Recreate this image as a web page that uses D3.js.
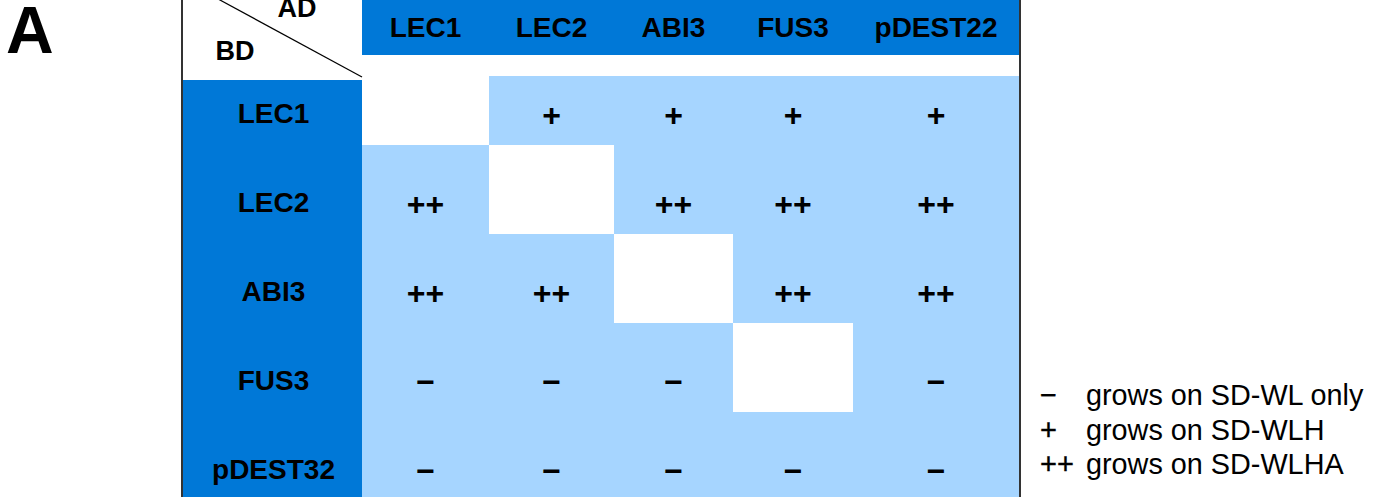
<!DOCTYPE html>
<html>
<head>
<meta charset="utf-8">
<script src="https://cdn.jsdelivr.net/npm/d3@7/dist/d3.min.js"></script>
<style>
  html, body { margin: 0; padding: 0; background: #fff; }
  svg { display: block; }
  text { font-family: "Liberation Sans", Arial, sans-serif; }
</style>
</head>
<body>
<svg id="chart" width="1386" height="497"></svg>
<script>
// ---- data ----
const adColumns = ["LEC1", "LEC2", "ABI3", "FUS3", "pDEST22"];
const bdRows = ["LEC1", "LEC2", "ABI3", "FUS3", "pDEST32"];
const growthLEC1 = [null, "+", "+", "+", "+"];
const growthLEC2 = ["++", null, "++", "++", "++"];
const growthABI3 = ["++", "++", null, "++", "++"];
const growthFUS3 = ["\u2212", "\u2212", "\u2212", null, "\u2212"];
const growthPDEST32 = ["\u2212", "\u2212", "\u2212", "\u2212", "\u2212"];
const legendSymbols = ["\u2212", "+", "++"];
const legendLabels = ["grows on SD-WL only", "grows on SD-WLH", "grows on SD-WLHA"];
const panelLabel = "A";
const adLabel = "AD";
const bdLabel = "BD";

// ---- layout ----
const W = 1386, H = 497;
const colEdges = [362, 489, 614, 733, 853, 1019];
const leftX0 = 183;
const darkBlue = "#0078D7";
const lightBlue = "#A6D5FF";

const svg = d3.select("#chart");

const growth = [growthLEC1, growthLEC2, growthABI3, growthFUS3, growthPDEST32];
const cells = [];
bdRows.forEach((r, i) => adColumns.forEach((c, j) => {
  cells.push({ row: r, col: j, value: growth[i][j] });
}));

const x = d3.scaleLinear().domain(d3.range(colEdges.length)).range(colEdges);
const y = d3.scaleBand().domain(bdRows).range([56, 501]);

// cells
svg.append("g").selectAll("rect")
  .data(cells).join("rect")
  .attr("x", d => x(d.col))
  .attr("y", d => y(d.row))
  .attr("width", d => x(d.col + 1) - x(d.col))
  .attr("height", y.bandwidth())
  .attr("fill", d => d.value === null ? "#fff" : lightBlue);

// white gap under header
svg.append("rect").attr("x", x(0)).attr("y", 55).attr("width", x(5) - x(0)).attr("height", 21).attr("fill", "#fff");
// header band
svg.append("rect").attr("x", x(0)).attr("y", 0).attr("width", x(5) - x(0)).attr("height", 55).attr("fill", darkBlue);
// left column
svg.append("rect").attr("x", leftX0).attr("y", 80).attr("width", x(0) - leftX0).attr("height", H - 80).attr("fill", darkBlue);

// header labels
svg.append("g").selectAll("text")
  .data(adColumns).join("text")
  .attr("x", (d, j) => (x(j) + x(j + 1)) / 2)
  .attr("y", 37)
  .attr("text-anchor", "middle")
  .attr("font-size", 28).attr("font-weight", "bold").attr("fill", "#000")
  .text(d => d);

// row labels
svg.append("g").selectAll("text")
  .data(bdRows).join("text")
  .attr("x", (leftX0 + x(0)) / 2 + 1)
  .attr("y", d => y(d) + y.bandwidth() / 2 + 22)
  .attr("text-anchor", "middle")
  .attr("font-size", 28).attr("font-weight", "bold").attr("fill", "#000")
  .text(d => d);

// cell symbols
svg.append("g").selectAll("text")
  .data(cells.filter(d => d.value !== null)).join("text")
  .attr("x", d => (x(d.col) + x(d.col + 1)) / 2)
  .attr("y", d => y(d.row) + y.bandwidth() / 2 + 25.5)
  .attr("text-anchor", "middle")
  .attr("font-size", 32).attr("font-weight", "bold").attr("fill", "#000")
  .text(d => d.value);

// corner: diagonal + AD / BD
svg.append("line").attr("x1", 210).attr("y1", -5.4).attr("x2", x(0)).attr("y2", 77)
  .attr("stroke", "#000").attr("stroke-width", 1.2);
svg.append("text").attr("x", 297).attr("y", 17).attr("text-anchor", "middle")
  .attr("font-size", 27).attr("font-weight", "bold").text(adLabel);
svg.append("text").attr("x", 235).attr("y", 60).attr("text-anchor", "middle")
  .attr("font-size", 27).attr("font-weight", "bold").text(bdLabel);

// frame lines
svg.append("line").attr("x1", 182).attr("x2", 182).attr("y1", 0).attr("y2", H)
  .attr("stroke", "#333").attr("stroke-width", 2);
svg.append("line").attr("x1", 1020).attr("x2", 1020).attr("y1", 0).attr("y2", H)
  .attr("stroke", "#333").attr("stroke-width", 2);

// panel label
svg.append("text").attr("x", 6).attr("y", 53).attr("font-size", 66).attr("font-weight", "bold").text(panelLabel);

// legend
const leg = svg.append("g").selectAll("g").data(legendLabels).join("g")
  .attr("transform", (d, i) => `translate(0, ${405 + i * 34.5})`);
leg.append("text").attr("x", 1040).attr("y", 0).attr("font-size", 29)
  .attr("stroke", "#000").attr("stroke-width", 0.4)
  .text((d, i) => legendSymbols[i]);
leg.append("text").attr("x", 1086).attr("y", 0).attr("font-size", 28.8)
  .text(d => d);
</script>
</body>
</html>
